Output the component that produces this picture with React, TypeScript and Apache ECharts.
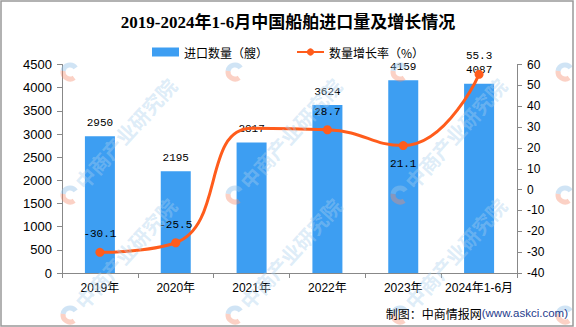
import React, { useEffect, useRef } from "react";
import * as echarts from "echarts";

const titleText = "2019-2024年1-6月中国船舶进口量及增长情况";
const categories = ["2019年", "2020年", "2021年", "2022年", "2023年", "2024年1-6月"];
const importCounts = [2950, 2195, 2817, 3624, 4159, 4087];
const growthRates = [-30.1, -25.5, 29.4, 28.7, 21.1, 55.3];
const growthLabelPos = ["top", "top", "bottom", "top", "bottom", "top"];
const barName = "进口数量（艘）";
const lineName = "数量增长率（%）";

const BAR_COLOR = "#3D9EF2";
const LINE_COLOR = "#FF5C1C";
const MONO = '"Liberation Mono", "DejaVu Sans Mono", monospace';
const SANS = '"Liberation Sans", Arial, "Noto Sans CJK SC", sans-serif';
const CJK = '"Noto Sans CJK SC", sans-serif';

function logo(x: number, y: number) {
  return [
    {
      type: "arc",
      x,
      y,
      silent: true,
      z: 100,
      shape: { cx: 0, cy: 0, r: 7, startAngle: Math.PI * 0.3, endAngle: Math.PI * 1.05 },
      style: { stroke: "rgba(245,140,110,0.4)", lineWidth: 5, fill: null },
    },
    {
      type: "arc",
      x,
      y,
      silent: true,
      z: 100,
      shape: { cx: 0, cy: 0, r: 7, startAngle: Math.PI * 1.05, endAngle: Math.PI * 1.8 },
      style: { stroke: "rgba(150,195,232,0.45)", lineWidth: 5, fill: null },
    },
  ];
}

function watermarks() {
  const xs = [70, 235, 400, 565];
  const ys = [72, 195, 315];
  const out: any[] = [];
  xs.forEach((x, ci) => {
    ys.forEach((y, ri) => {
      out.push(...logo(x, y));
      // only draw the wordmark where it fits inside the picture
      if (ri > 0 && ci < 3) {
        out.push({
          type: "text",
          silent: true,
          z: 100,
          x,
          y,
          rotation: (48 * Math.PI) / 180,
          style: {
            text: "中商产业研究院",
            x: 13,
            y: 0,
            font: 'bold 20px "Noto Sans CJK SC", sans-serif',
            fill: "rgba(170,208,238,0.4)",
            textVerticalAlign: "middle",
            textAlign: "left",
          },
        });
      }
    });
  });
  return out;
}

export default function App() {
  const ref = useRef<HTMLDivElement>(null);
  useEffect(() => {
    if (!ref.current) return;
    const chart = echarts.init(ref.current, undefined, { renderer: "svg" });
    const option: any = {
      animation: false,
      backgroundColor: "#fff",
      title: {
        text: titleText,
        left: "center",
        top: 14,
        padding: 0,
        textStyle: {
          fontSize: 17,
          fontWeight: "bold",
          fontFamily: '"Liberation Serif", "Noto Sans CJK SC", serif',
          color: "#000",
        },
      },
      legend: {
        top: 41,
        left: "center",
        itemWidth: 27,
        itemHeight: 9,
        itemGap: 28,
        textStyle: { fontSize: 12, fontFamily: CJK, color: "#000" },
        data: [
          { name: barName, icon: "rect" },
          { name: lineName },
        ],
      },
      grid: { left: 62, right: 59, top: 64.5, bottom: 54 },
      xAxis: {
        type: "category",
        data: categories,
        axisLine: { lineStyle: { color: "#888" } },
        axisTick: { show: true, length: 5, lineStyle: { color: "#888" } },
        axisLabel: { color: "#000", fontSize: 12, margin: 9, fontFamily: SANS, interval: 0 },
      },
      yAxis: [
        {
          type: "value",
          min: 0,
          max: 4500,
          interval: 500,
          splitLine: { show: false },
          axisLine: { show: true, lineStyle: { color: "#888" } },
          axisTick: { show: true, length: 5, lineStyle: { color: "#888" } },
          axisLabel: {
            color: "#000",
            fontSize: 13,
            margin: 10,
            fontFamily: SANS,
            formatter: (v: number) => String(v),
          },
        },
        {
          type: "value",
          position: "right",
          min: -40,
          max: 60,
          interval: 10,
          splitLine: { show: false },
          axisLine: { show: true, lineStyle: { color: "#888" } },
          axisTick: { show: true, length: 5, lineStyle: { color: "#888" } },
          axisLabel: { color: "#000", fontSize: 12, margin: 10, fontFamily: SANS },
        },
      ],
      series: [
        {
          name: barName,
          type: "bar",
          data: importCounts,
          barWidth: 30,
          itemStyle: { color: BAR_COLOR },
          label: {
            show: true,
            position: "top",
            distance: 8,
            color: "#000",
            fontSize: 11,
            fontFamily: MONO,
          },
        },
        {
          name: lineName,
          type: "line",
          yAxisIndex: 1,
          smooth: true,
          symbol: "circle",
          symbolSize: 9,
          z: 5,
          lineStyle: { width: 3, color: LINE_COLOR },
          itemStyle: { color: LINE_COLOR },
          data: growthRates.map((v, i) => ({
            value: v,
            label: { position: growthLabelPos[i] },
            ...(i === 2 ? { itemStyle: { opacity: 0 } } : {}),
          })),
          label: {
            show: true,
            distance: 8,
            color: "#000",
            fontSize: 11,
            fontFamily: MONO,
          },
        },
      ],
      graphic: [
        {
          type: "rect",
          silent: true,
          shape: { x: 1, y: 1, width: 572, height: 325 },
          style: { fill: null, stroke: "#999", lineWidth: 1.5 },
          z: 200,
        },
        {
          type: "text",
          x: 568,
          y: 313,
          z: 150,
          style: {
            text: "{a|制图：中商情报网}{b|(www.askci.com)}",
            textAlign: "right",
            textVerticalAlign: "middle",
            rich: {
              a: { fontSize: 12, fontFamily: CJK, fill: "#000", color: "#000" },
              b: { fontSize: 11.5, fontFamily: SANS, fill: "#1F3C8C", color: "#1F3C8C" },
            },
          },
        },
        ...watermarks(),
      ],
    };
    chart.setOption(option);
    return () => chart.dispose();
  }, []);
  return (
    <div
      ref={ref}
      style={{ position: "absolute", left: 0, top: 0, width: 576, height: 327 }}
    />
  );
}
